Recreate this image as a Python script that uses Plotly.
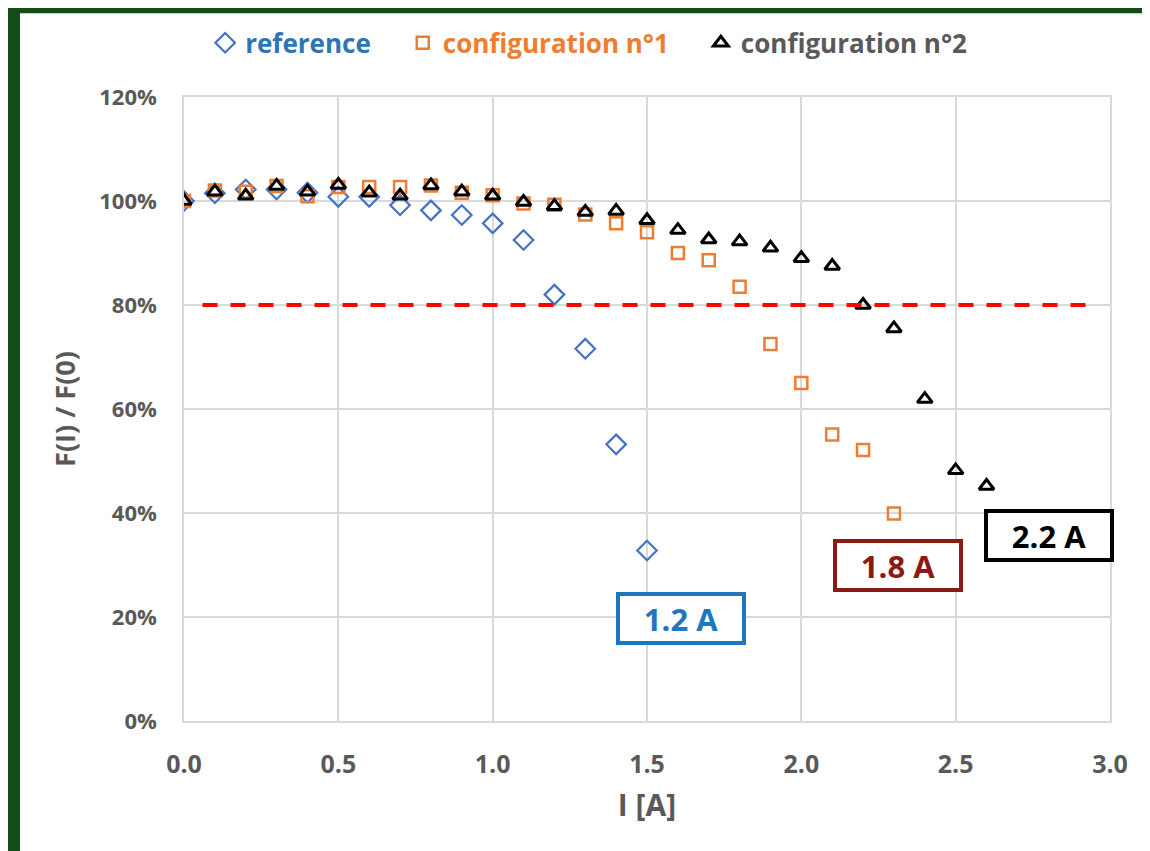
import plotly.graph_objects as go

# ---- data ----
current = [round(0.1 * i, 1) for i in range(27)]

ref_x = [0.0, 0.1, 0.2, 0.3, 0.4, 0.5, 0.6, 0.7, 0.8, 0.9, 1.0, 1.1, 1.2, 1.3, 1.4, 1.5]
ref_y = [100.0, 101.5, 102.2, 102.2, 101.6, 100.8, 100.8, 99.2, 98.2, 97.3, 95.7, 92.5, 82.0, 71.6, 53.2, 32.8]

c1_x = [0.0, 0.1, 0.2, 0.3, 0.4, 0.5, 0.6, 0.7, 0.8, 0.9, 1.0, 1.1, 1.2, 1.3, 1.4, 1.5,
        1.6, 1.7, 1.8, 1.9, 2.0, 2.1, 2.2, 2.3]
c1_y = [100.0, 102.0, 101.8, 102.9, 100.9, 102.7, 102.7, 102.7, 103.0, 101.6, 101.1, 99.5,
        99.3, 97.4, 95.7, 94.0, 90.0, 88.6, 83.5, 72.5, 65.0, 55.1, 52.1, 39.9]

c2_x = current
c2_y = [100.0, 101.8, 101.0, 102.9, 101.8, 103.1, 101.6, 101.0, 103.0, 101.8, 101.0, 99.8,
        99.0, 97.9, 98.1, 96.3, 94.4, 92.6, 92.2, 91.0, 89.0, 87.5, 80.0, 75.5, 61.9, 48.2, 45.2]

threshold = 80
threshold_x = [0.06, 2.93]

labels = ["1.2 A", "1.8 A", "2.2 A"]
label_x = [1.611, 2.314, 2.803]
label_y = [19.8, 29.9, 35.6]
label_colors = ["#1F75BE", "#8B1A14", "#000000"]

series_names = ["reference", "configuration n°1", "configuration n°2"]
y_ticks = [0, 20, 40, 60, 80, 100, 120]
x_ticks = [0.0, 0.5, 1.0, 1.5, 2.0, 2.5, 3.0]

FONT = "Open Sans"
GREY = "#595959"
PAD = "\u00a0" * 4

fig = go.Figure()
fig.add_trace(go.Scatter(
    x=ref_x, y=ref_y, mode="markers",
    name="<span style='color:#2E75B6'>" + series_names[0] + PAD + "</span>",
    marker=dict(symbol="diamond-open", size=15, color="#4472C4", line=dict(width=2.2, color="#4472C4")),
))
fig.add_trace(go.Scatter(
    x=c1_x, y=c1_y, mode="markers",
    name="<span style='color:#ED7D31'>" + series_names[1] + PAD + "</span>",
    marker=dict(symbol="square-open", size=12, color="#ED7D31", line=dict(width=2.5, color="#ED7D31")),
))
fig.add_trace(go.Scatter(
    x=c2_x, y=c2_y, mode="markers",
    name="<span style='color:#595959'>" + series_names[2] + "</span>",
    marker=dict(symbol="triangle-up-open", size=13, color="#000000", line=dict(width=3, color="#000000")),
))

# threshold line
fig.add_shape(type="line", xref="x", yref="y", x0=threshold_x[0], x1=threshold_x[1],
              y0=threshold, y1=threshold, line=dict(color="#FF0000", width=4, dash="15px,13px"),
              layer="above")

# white panel over green background
fig.add_shape(type="rect", xref="paper", yref="paper",
              x0=(20 - 184) / 926, x1=(1160 - 184) / 926,
              y0=(721 - 870) / 625, y1=(721 - 12) / 625,
              fillcolor="white", line=dict(width=0), layer="below")

for t, x, y, c in zip(labels, label_x, label_y, label_colors):
    fig.add_annotation(x=x, y=y, xref="x", yref="y", text="<b>" + t + "</b>", showarrow=False,
                       font=dict(family=FONT, size=31, color=c),
                       bordercolor=c, borderwidth=4, borderpad=2, bgcolor="white",
                       width=118, height=41)

fig.update_layout(
    width=1150, height=851,
    margin=dict(l=176, r=48, t=88, b=138),
    paper_bgcolor="#154d18",
    plot_bgcolor="white",
    font=dict(family=FONT, color=GREY),
    legend=dict(orientation="h", x=0.437, xanchor="center", y=1.085, yanchor="middle",
                font=dict(family=FONT, size=26, weight="bold"), bgcolor="rgba(0,0,0,0)",
                itemwidth=30),
    showlegend=True,
)
fig.update_xaxes(range=[0, 3], tickvals=x_ticks, ticktext=[f"{v:.1f}" for v in x_ticks],
                 showgrid=True, gridcolor="#D9D9D9", gridwidth=1.5,
                 showline=True, mirror=True, linecolor="#D9D9D9", linewidth=1.5,
                 zeroline=False, ticks="", ticklabelstandoff=20,
                 tickfont=dict(family=FONT, size=25, color=GREY, weight="bold"),
                 title=dict(text="<b>I [A]</b>", font=dict(family=FONT, size=30, color=GREY), standoff=16))
fig.update_yaxes(range=[0, 120], tickvals=y_ticks, ticktext=[f"{v}%" for v in y_ticks],
                 showgrid=True, gridcolor="#D9D9D9", gridwidth=1.5,
                 showline=True, mirror=True, linecolor="#D9D9D9", linewidth=1.5,
                 zeroline=False, ticks="", ticklabelstandoff=21,
                 tickfont=dict(family=FONT, size=22, color=GREY, weight="bold"),
                 title=dict(text="<b>F(I) / F(0)</b>", font=dict(family=FONT, size=27, color=GREY), standoff=16))

fig.write_html("out.html")
